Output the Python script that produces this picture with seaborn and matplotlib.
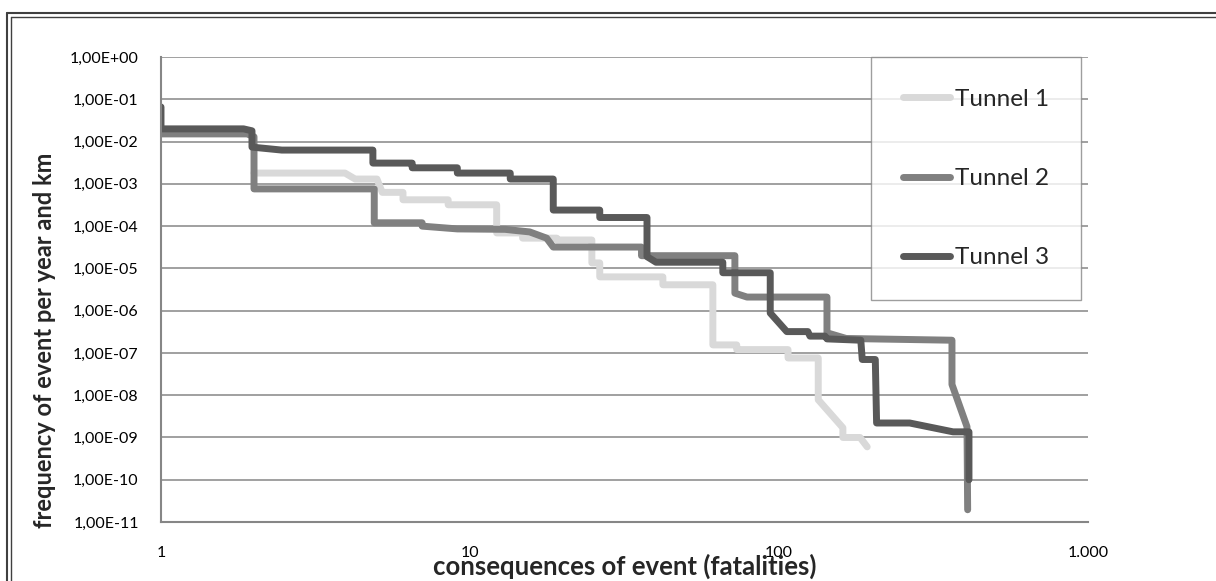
import numpy as np
import pandas as pd
import matplotlib
matplotlib.use("Agg")
import matplotlib.pyplot as plt
import matplotlib.ticker as mticker
from matplotlib.lines import Line2D
import seaborn as sns

# Werte (F-N-Kurven)
t1_x = [2.0, 3.94, 4.25, 5.0, 5.2, 6.07, 6.07, 8.5, 8.5, 12.2, 12.2, 14.8, 14.8, 19.1, 19.1, 24.8,
        24.8, 26.3, 26.3, 42.1, 42.1, 61.1, 61.1, 73.0, 73.0, 107.0, 107.0, 134.0, 134.0, 161.0,
        161.0, 183.0, 193.0]
t1_y = [1.8e-3, 1.8e-3, 1.3e-3, 1.3e-3, 6.3e-4, 6.3e-4, 4.2e-4, 4.2e-4, 3.2e-4, 3.2e-4, 6.9e-5,
        6.9e-5, 5.2e-5, 5.2e-5, 4.7e-5, 4.7e-5, 1.35e-5, 1.35e-5, 6.3e-6, 6.3e-6, 4.1e-6, 4.1e-6,
        1.55e-7, 1.55e-7, 1.2e-7, 1.2e-7, 7.6e-8, 7.6e-8, 7.8e-9, 1.7e-9, 1.0e-9, 1.0e-9, 6.0e-10]

t2_x = [1.0, 1.9, 2.0, 2.0, 4.9, 4.9, 7.0, 7.0, 9.1, 13.0, 13.8, 15.6, 17.7, 18.6, 35.9, 35.9,
        72.0, 72.0, 78.8, 143.0, 143.0, 165.0, 363.0, 363.0, 406.0, 408.0]
t2_y = [1.52e-2, 1.52e-2, 1.3e-2, 7.6e-4, 7.6e-4, 1.2e-4, 1.2e-4, 1.0e-4, 8.6e-5, 8.4e-5, 8.0e-5,
        7.3e-5, 5.2e-5, 3.2e-5, 3.2e-5, 2.0e-5, 2.0e-5, 2.6e-6, 2.1e-6, 2.1e-6, 3.0e-7, 2.2e-7,
        2.0e-7, 1.8e-8, 1.8e-9, 1.95e-11]

t3_x = [1.0, 1.0, 1.85, 1.97, 1.97, 2.46, 4.85, 4.85, 6.5, 6.5, 9.1, 9.1, 13.5, 13.5, 18.6, 18.6,
        26.3, 26.3, 37.4, 37.4, 40.0, 65.8, 65.8, 93.7, 93.7, 106.0, 124.0, 126.0, 141.0, 143.0,
        184.0, 186.0, 205.0, 207.0, 265.0, 366.0, 412.0, 412.0]
t3_y = [6.6e-2, 2.0e-2, 2.0e-2, 1.8e-2, 7.4e-3, 6.3e-3, 6.3e-3, 3.1e-3, 3.1e-3, 2.4e-3, 2.4e-3,
        1.8e-3, 1.8e-3, 1.3e-3, 1.3e-3, 2.4e-4, 2.4e-4, 1.6e-4, 1.6e-4, 1.9e-5, 1.4e-5, 1.4e-5,
        7.9e-6, 7.9e-6, 8.8e-7, 3.2e-7, 3.2e-7, 2.5e-7, 2.5e-7, 2.15e-7, 2.0e-7, 7.0e-8, 7.0e-8,
        2.2e-9, 2.2e-9, 1.36e-9, 1.36e-9, 1.0e-10]

series_names = ['Tunnel 1', 'Tunnel 2', 'Tunnel 3']
series_colors = ['#d9d9d9', '#808080', '#595959']

y_ticks = [10.0 ** e for e in range(0, -12, -1)]
x_ticks = [1, 10, 100, 1000]
x_tick_labels = ['1', '10', '100', '1.000']

df = pd.concat([
    pd.DataFrame({'x': t1_x, 'y': t1_y, 'tunnel': 'Tunnel 1'}),
    pd.DataFrame({'x': t2_x, 'y': t2_y, 'tunnel': 'Tunnel 2'}),
    pd.DataFrame({'x': t3_x, 'y': t3_y, 'tunnel': 'Tunnel 3'}),
], ignore_index=True)

sns.set_style("white")
plt.rcParams['font.family'] = ['Lato', 'DejaVu Sans']

fig = plt.figure(figsize=(12.16, 5.81), dpi=100)
ax = fig.add_axes([0.1324, 0.1015, 0.7623, 0.8003])

sns.lineplot(data=df, x='x', y='y', hue='tunnel', hue_order=series_names,
             palette=series_colors, sort=False, estimator=None, linewidth=5,
             ax=ax)
for line in ax.lines:
    line.set_solid_capstyle('round')
    line.set_solid_joinstyle('round')

ax.set_xscale('log')
ax.set_yscale('log')
ax.set_xlim(1, 1000)
ax.set_ylim(1e-11, 1)

ax.set_yticks(y_ticks)
ax.yaxis.set_major_formatter(mticker.FuncFormatter(lambda v, p: f"{v:.2E}".replace('.', ',')))
ax.set_xticks(x_ticks)
ax.set_xticklabels(x_tick_labels)
ax.xaxis.set_minor_locator(mticker.LogLocator(base=10, subs=np.arange(2, 10)))
ax.yaxis.set_minor_locator(mticker.LogLocator(base=10, subs=np.arange(2, 10), numticks=30))
ax.yaxis.set_minor_formatter(mticker.NullFormatter())
ax.xaxis.set_minor_formatter(mticker.NullFormatter())

ax.grid(True, which='major', axis='y', color='#868686', linewidth=1.1)
ax.set_axisbelow(True)
for side in ['top', 'right']:
    ax.spines[side].set_visible(False)
for side in ['left', 'bottom']:
    ax.spines[side].set_color('#868686')
    ax.spines[side].set_linewidth(1.5)

ax.tick_params(axis='y', which='major', length=0, pad=16, labelsize=11.5, labelcolor='black')
ax.tick_params(axis='y', which='minor', direction='in', length=3, width=0.8, color='#868686')
ax.tick_params(axis='x', which='major', direction='in', length=4, width=1, color='#868686',
               pad=17, labelsize=11.5, labelcolor='black')
ax.tick_params(axis='x', which='minor', direction='in', length=4, width=1, color='#868686')

# Achsentitel
ax.set_xlabel('consequences of event (fatalities)', fontsize=18.5, fontweight='bold')
ax.xaxis.set_label_coords(0.5, -0.095)
ax.xaxis.label.set_va('center')
ax.set_ylabel('')
fig.text(0.037, 1 - 340 / 581, 'frequency of event per year and km', rotation=90, fontsize=17,
         fontweight='bold', ha='center', va='center')

handles, labels = ax.get_legend_handles_labels()
leg = ax.legend(handles, labels, loc='upper right', bbox_to_anchor=(0.9925, 1.0),
                fontsize=17.5, frameon=True, fancybox=False, handlelength=1.95,
                handletextpad=0.2, labelspacing=2.4, borderpad=1.3, borderaxespad=0)
leg.get_frame().set_edgecolor('#868686')
leg.get_frame().set_linewidth(1.0)
for lh in leg.get_lines():
    lh.set_linewidth(5)
    lh.set_solid_capstyle('round')

# doppelter Rahmen links und oben
fig.add_artist(Line2D([7 / 1216, 7 / 1216], [0, 1 - 13 / 581], color='#404040', lw=1.5))
fig.add_artist(Line2D([11 / 1216, 11 / 1216], [0, 1 - 17 / 581], color='#404040', lw=1.0))
fig.add_artist(Line2D([7 / 1216, 1], [1 - 13 / 581, 1 - 13 / 581], color='#404040', lw=1.5))
fig.add_artist(Line2D([11 / 1216, 1], [1 - 17 / 581, 1 - 17 / 581], color='#404040', lw=1.0))

fig.savefig('out.png', dpi=100)
